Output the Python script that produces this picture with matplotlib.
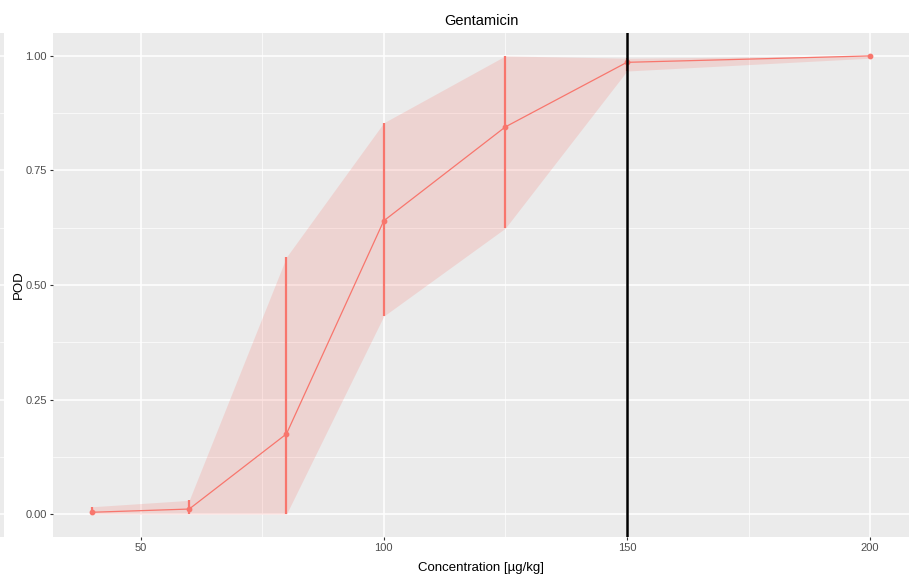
import numpy as np
import matplotlib
matplotlib.use("Agg")
import matplotlib.pyplot as plt
from matplotlib.ticker import MultipleLocator

# values
conc = [40, 60, 80, 100, 125, 150, 200]
pod = [0.004, 0.011, 0.175, 0.640, 0.845, 0.986, 1.000]
pod_low = [0.000, 0.000, 0.000, 0.432, 0.624, 0.967, 0.995]
pod_high = [0.016, 0.030, 0.561, 0.854, 1.000, 0.995, 1.000]
ref_conc = 150
title = "Gentamicin"
xlabel = "Concentration [µg/kg]"
ylabel = "POD"
xticks = [50, 100, 150, 200]
yticks = [0.00, 0.25, 0.50, 0.75, 1.00]

plt.rcParams['font.family'] = ['Liberation Sans', 'DejaVu Sans']
red = "#F8766D"
panel = "#EBEBEB"
txt = "#4D4D4D"

fig = plt.figure(figsize=(9.09, 5.82), dpi=100)
ax = fig.add_axes([53 / 909, 45 / 582, 1 - 53 / 909, 504 / 582])

# sliver of a neighbouring panel at the left edge
ax2 = fig.add_axes([0, 45 / 582, 4 / 909, 504 / 582])
ax2.set_facecolor(panel)
ax2.set_ylim(-0.05, 1.05)
ax2.set_xlim(0, 1)
for y in yticks:
    ax2.axhline(y, color="white", lw=1.1)
for y in np.arange(0.125, 1.0, 0.25):
    ax2.axhline(y, color="white", lw=0.5)
ax2.set_xticks([])
ax2.set_yticks([])
for s in ax2.spines.values():
    s.set_visible(False)

ax.set_facecolor(panel)
ax.set_xlim(32, 208)
ax.set_ylim(-0.05, 1.05)
ax.set_xticks(xticks)
ax.set_yticks(yticks)
ax.set_yticklabels(["%.2f" % v for v in yticks])
ax.xaxis.set_minor_locator(MultipleLocator(25))
ax.yaxis.set_minor_locator(MultipleLocator(0.125))
ax.grid(True, which="major", color="white", lw=1.1, zorder=0)
ax.grid(True, which="minor", color="white", lw=0.5, zorder=0)
ax.set_axisbelow(True)
ax.tick_params(which="major", length=2.5, width=0.8, color="#333333",
               labelsize=8, labelcolor=txt, pad=2)
ax.tick_params(which="minor", length=0)
for s in ax.spines.values():
    s.set_visible(False)

ax.fill_between(conc, pod_low, pod_high, color=red, alpha=0.2, lw=0, zorder=2)
ax.plot(conc, pod, color=red, lw=0.9, zorder=3)
ax.vlines(conc, pod_low, pod_high, color=red, lw=1.6, zorder=3)
ax.scatter(conc, pod, color=red, s=10, zorder=4)
ax.axvline(ref_conc, color="black", lw=1.8, zorder=5)

ax.set_title(title, fontsize=10.5, color="black", pad=6)
ax.set_xlabel(xlabel, fontsize=9.5, color="black", labelpad=6)
ax.set_ylabel(ylabel, fontsize=9.5, color="black")
ax.yaxis.set_label_coords(-28 / 856, 0.5)

fig.savefig("out.png", dpi=100)
